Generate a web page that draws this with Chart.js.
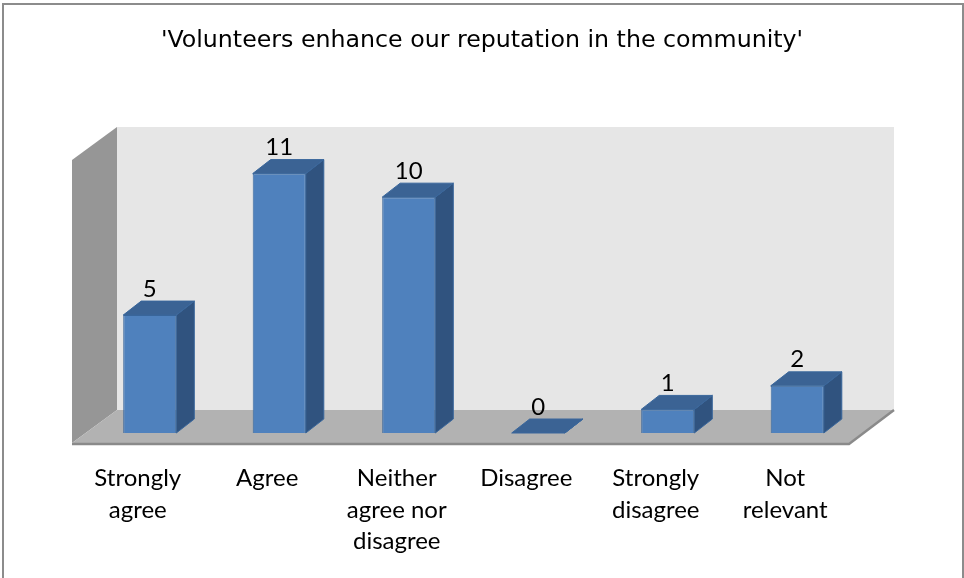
<!DOCTYPE html>
<html>
<head>
<meta charset="utf-8">
<script src="https://cdn.jsdelivr.net/npm/chart.js@4.4.1/dist/chart.umd.min.js"></script>
<style>
    html, body { margin: 0; padding: 0; background: #fff; }
    #wrap { width: 964px; height: 578px; position: relative; }
</style>
</head>
<body>
<div id="wrap"><canvas id="reputation_chart"></canvas></div>
<script>
const chart_title = "'Volunteers enhance our reputation in the community'";
const categories = [['Strongly', 'agree'], ['Agree'], ['Neither', 'agree nor', 'disagree'], ['Disagree'], ['Strongly', 'disagree'], ['Not', 'relevant']];
const responses = [5, 11, 10, 0, 1, 2];
const axis_min = 0;
const axis_max = 12;

// offsets of the fake 3d box, measured from the bar front plane
const depth = {
    bar: { x: 18, y: -14 },
    back: { x: 32, y: -23 },
    front: { x: -13, y: 10 }
};
const colors = {
    front: '#4f81bd',
    top: '#3b6394',
    side: '#30537f',
    edge: '#3a679c',
    wall: '#e6e6e6',
    side_wall: '#969696',
    floor: '#b2b2b2',
    floor_edge: '#8a8a8a'
};

function poly(ctx, pts, fill, stroke) {
    ctx.beginPath();
    ctx.moveTo(pts[0][0], pts[0][1]);
    for (let i = 1; i < pts.length; i++) ctx.lineTo(pts[i][0], pts[i][1]);
    ctx.closePath();
    ctx.fillStyle = fill;
    ctx.fill();
    if (stroke) {
        ctx.strokeStyle = stroke;
        ctx.lineWidth = 1;
        ctx.stroke();
    }
}

const box3d = {
    id: 'box3d',
    beforeDraw(chart) {
        const ctx = chart.ctx;
        ctx.save();
        ctx.fillStyle = '#fff';
        ctx.fillRect(0, 0, chart.width, chart.height);
        ctx.strokeStyle = '#8c8c8c';
        ctx.lineWidth = 2;
        ctx.strokeRect(3, 4, chart.width - 4, chart.height + 20);
        ctx.restore();
    },
    beforeDatasetsDraw(chart) {
        const { ctx, chartArea: a, scales: { y } } = chart;
        const top = y.getPixelForValue(axis_max);
        const base = y.getPixelForValue(axis_min);
        const b = depth.back, f = depth.front;
        ctx.save();
        // back wall
        ctx.fillStyle = colors.wall;
        ctx.fillRect(a.left + b.x, top + b.y, a.right - a.left, base - top);
        // left wall
        poly(ctx, [[a.left + f.x, top + f.y], [a.left + b.x, top + b.y], [a.left + b.x, base + b.y], [a.left + f.x, base + f.y]], colors.side_wall);
        // floor
        poly(ctx, [[a.left + f.x, base + f.y], [a.right + f.x, base + f.y], [a.right + b.x, base + b.y], [a.left + b.x, base + b.y]], colors.floor);
        ctx.strokeStyle = colors.floor_edge;
        ctx.lineWidth = 2.5;
        ctx.beginPath();
        ctx.moveTo(a.left + f.x, base + f.y + 1);
        ctx.lineTo(a.right + f.x, base + f.y + 1);
        ctx.lineTo(a.right + b.x, base + b.y);
        ctx.stroke();
        ctx.restore();
    },
    afterDatasetsDraw(chart) {
        const ctx = chart.ctx;
        const d = depth.bar;
        const bars = chart.getDatasetMeta(0).data;
        ctx.save();
        bars.forEach((el, i) => {
            const l = el.x - el.width / 2, r = el.x + el.width / 2;
            // side face
            poly(ctx, [[r, el.y], [r + d.x, el.y + d.y], [r + d.x, el.base + d.y], [r, el.base]], colors.side, colors.edge);
            // top face
            poly(ctx, [[l, el.y], [r, el.y], [r + d.x, el.y + d.y], [l + d.x, el.y + d.y]], colors.top, colors.edge);
        });
        // value labels
        ctx.fillStyle = '#000';
        ctx.font = '24px Lato';
        ctx.textAlign = 'center';
        ctx.textBaseline = 'alphabetic';
        bars.forEach((el, i) => {
            ctx.fillText(String(responses[i]), el.x, el.y - 18.5);
        });
        ctx.restore();
    }
};

const ctx = document.getElementById('reputation_chart');
const reputation_chart = new Chart(ctx, {
    type: 'bar',
    data: {
        labels: categories,
        datasets: [
            {
                label: 'Responses',
                data: responses,
                backgroundColor: colors.front,
                borderColor: colors.edge,
                borderWidth: 1,
                barPercentage: 0.41,
                categoryPercentage: 1
            }
        ]
    },
    options: {
        responsive: true,
        maintainAspectRatio: false,
        animation: false,
        layout: { padding: 0 },
        scales: {
            x: {
                grid: { display: false, drawTicks: false },
                border: { display: false },
                ticks: {
                    color: '#000',
                    font: { family: 'Lato', size: 24, lineHeight: 1.3 },
                    padding: 30,
                    labelOffset: -12,
                    maxRotation: 0,
                    autoSkip: false
                },
                afterFit(scale) { scale.height = 145; }
            },
            y: {
                min: axis_min,
                max: axis_max,
                grid: { display: false, drawTicks: false },
                border: { display: false },
                ticks: { display: false },
                afterFit(scale) { scale.width = 85; }
            },
            y2: {
                position: 'right',
                grid: { display: false, drawTicks: false },
                border: { display: false },
                ticks: { display: false },
                afterFit(scale) { scale.width = 102; }
            }
        },
        plugins: {
            legend: { display: false },
            tooltip: { enabled: false },
            title: {
                display: true,
                text: chart_title,
                color: '#000',
                font: { family: 'DejaVu Sans', size: 23.7, weight: 'normal', lineHeight: 1.2 },
                padding: { top: 27, bottom: 94.56 }
            }
        }
    },
    plugins: [box3d]
});
</script>
</body>
</html>
